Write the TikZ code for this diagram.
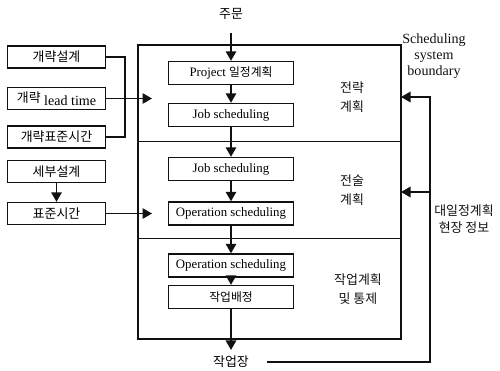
\documentclass[tikz,border=0pt]{standalone}
\usepackage{fontspec}
\setmainfont{Liberation Serif}
\newfontfamily\krfont[Scale=0.92]{Noto Sans CJK KR}
\usetikzlibrary{positioning,calc,arrows.meta}
\definecolor{Ink}{HTML}{111111}
\newcommand{\ko}[1]{{\krfont #1}}
\tikzset{
	leftbox/.style={draw=Ink, line width=0.8pt, minimum width=1.96cm, minimum height=0.44cm, inner sep=1pt},
	planbox/.style={draw=Ink, line width=0.8pt, minimum width=2.5cm, minimum height=0.46cm, inner sep=1pt, font=\fontsize{7.3}{9}\selectfont},
	flow/.style={draw=Ink, line width=0.8pt, -{Triangle[length=1.9mm,width=2.1mm]}},
	wire/.style={draw=Ink, line width=0.8pt},
	tag/.style={align=center, text=Ink, font=\fontsize{8}{10.5}\selectfont}
}

\begin{document}
\begin{tikzpicture}[x=0.02cm, y=-0.02cm, font=\fontsize{8}{10}\selectfont]
	\useasboundingbox (0,0) rectangle (500,370);
	% system boundary and its three levels
	\coordinate (bnw) at (138,45);
	\coordinate (bse) at (401,339);
	\draw[wire] (bnw) rectangle (bse);
	\draw[wire, line width=0.5pt] (138,141) -- (401,141);
	\draw[wire, line width=0.5pt] (138,238) -- (401,238);
	
	% left inputs
	\node[leftbox] (roughdes) at (56.5,57) {\ko{개략설계}};
	\node[leftbox] (roughlt) at (56.5,98.5) {\ko{개략} \raisebox{-1.5pt}{lead time}};
	\node[leftbox] (roughstd) at (56.5,137) {\ko{개략표준시간}};
	\node[leftbox] (detdes) at (56.5,171.5) {\ko{세부설계}};
	\node[leftbox] (stdtime) at (56.5,213.5) {\ko{표준시간}};
	
	% planning steps
	\node[planbox] (proj) at (231,73) {Project \ko{일정계획}};
	\node[planbox] (jobA) at (231,115) {Job scheduling};
	\node[planbox] (jobB) at (231,169) {Job scheduling};
	\node[planbox] (opA) at (231,213.5) {Operation scheduling};
	\node[planbox] (opB) at (231,265.5) {Operation scheduling};
	\node[planbox] (dispatch) at (231,297) {\ko{작업배정}};
	
	\node (order) at (231,14) {\ko{주문}};
	\node (shop) at (231,362) {\ko{작업장}};
	
	% level labels
	\node[tag] (strat) at (352,97) {\ko{전략}\\\ko{계획}};
	\node[tag] (tact) at (352,190) {\ko{전술}\\\ko{계획}};
	\node[tag] (ctrl) at (358,289) {\ko{작업계획}\\\ko{및 통제}};
	\node[tag, font=\fontsize{8}{9}\selectfont] (bound) at (434,56) {Scheduling\\system\\boundary};
	\node[tag, font=\fontsize{8}{9.5}\selectfont] (info) at (464,219) {\ko{대일정계획}\\\ko{현장 정보}};
	
	% flow through the system
	\draw[flow, shorten <=4pt] (order) -- (proj);
	\draw[flow] (proj) -- (jobA);
	\draw[flow] (jobA) -- (jobB);
	\draw[flow] (jobB) -- (opA);
	\draw[flow] (opA) -- (opB);
	\draw[flow] (opB) -- (dispatch);
	\draw[flow] (dispatch) -- (shop);
	
	% inputs into the boundary
	\coordinate (inA) at (152,98.5);
	\coordinate (inB) at (152,213.5);
	\draw[wire] (roughdes.east) -- ++(19,0) |- (roughstd.east);
	\draw[flow] (roughlt.east) -- (inA);
	\draw[flow] (detdes) -- (stdtime);
	\draw[flow] (stdtime.east) -- (inB);
	
	% feedback from the shop floor
	\coordinate (fbx) at (430,0);
	\coordinate (fbcorner) at (shop.east -| fbx);
	\coordinate (fbA) at (401,97);
	\coordinate (fbB) at (401,192);
	\draw[flow, shorten <=0.24cm] (shop.east) -- (fbcorner) |- (fbA);
	\draw[flow] (fbcorner |- fbB) -- (fbB);
\end{tikzpicture}
\end{document}
